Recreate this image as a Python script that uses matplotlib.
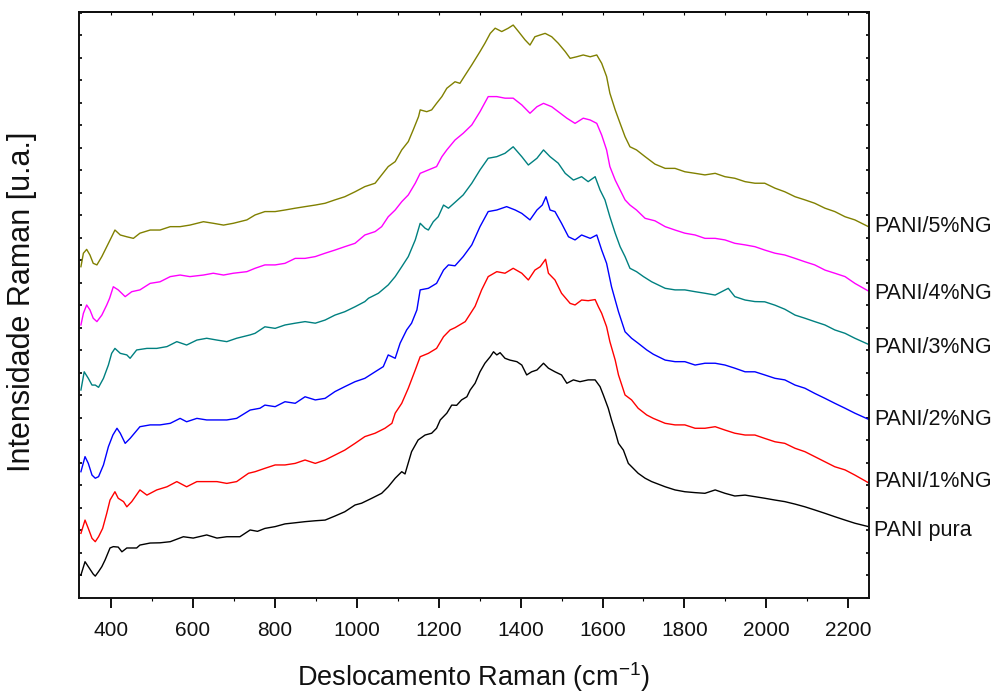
import matplotlib
matplotlib.use("Agg")
import matplotlib.pyplot as plt
from matplotlib.ticker import MultipleLocator, NullFormatter

plt.rcParams['font.family'] = ['Liberation Sans', 'DejaVu Sans']
plt.rcParams['mathtext.fontset'] = 'custom'
plt.rcParams['mathtext.rm'] = 'Liberation Sans'
plt.rcParams['mathtext.it'] = 'Liberation Sans'

# Raman spectra (stacked, arbitrary units)
x_pura = [327, 337, 345, 357, 362, 370, 378, 386, 398, 406, 418, 427, 439, 463, 471, 496, 520, 545, 577, 601,
          634, 659, 683, 715, 740, 758, 776, 801, 825, 850, 874, 899, 923, 947, 971, 996, 1012, 1037, 1061, 1077,
          1094, 1110, 1118, 1122, 1134, 1150, 1167, 1183, 1195, 1204, 1220, 1232, 1244, 1256, 1269, 1277, 1289, 1301, 1313, 1326,
          1334, 1342, 1350, 1362, 1374, 1391, 1403, 1415, 1427, 1440, 1456, 1468, 1484, 1500, 1513, 1529, 1545, 1565, 1582, 1594,
          1602, 1614, 1622, 1631, 1639, 1651, 1663, 1675, 1687, 1704, 1720, 1753, 1777, 1801, 1826, 1850, 1875, 1899, 1923, 1948,
          1972, 1996, 2021, 2045, 2070, 2094, 2118, 2143, 2167, 2192, 2216, 2249]
y_pura = [1.01, 1.60, 1.38, 1.05, 0.96, 1.16, 1.38, 1.68, 2.21, 2.27, 2.25, 2.04, 2.21, 2.21, 2.34, 2.43, 2.44, 2.49, 2.71, 2.65,
          2.79, 2.65, 2.71, 2.71, 3.01, 2.95, 3.08, 3.16, 3.28, 3.33, 3.38, 3.42, 3.45, 3.63, 3.82, 4.12, 4.20, 4.42, 4.64, 4.93,
          5.31, 5.60, 5.50, 5.75, 6.49, 7.01, 7.23, 7.31, 7.53, 7.90, 8.20, 8.56, 8.55, 8.79, 8.93, 9.23, 9.53, 10.04, 10.42, 10.71,
          10.93, 10.79, 10.89, 10.64, 10.56, 10.49, 10.34, 9.90, 10.04, 10.12, 10.42, 10.20, 10.04, 9.90, 9.53, 9.68, 9.60, 9.68, 9.68, 9.38,
          9.01, 8.42, 7.90, 7.38, 6.86, 6.56, 5.97, 5.75, 5.53, 5.31, 5.16, 4.93, 4.79, 4.71, 4.67, 4.64, 4.79, 4.64, 4.52, 4.56,
          4.49, 4.42, 4.34, 4.27, 4.16, 4.04, 3.90, 3.75, 3.60, 3.45, 3.31, 3.16]

x_1ng = [327, 337, 345, 354, 362, 370, 380, 390, 398, 410, 418, 431, 439, 451, 471, 488, 512, 537, 561, 585,
         610, 634, 659, 683, 707, 736, 752, 776, 801, 825, 850, 874, 899, 923, 947, 971, 996, 1020, 1045, 1069,
         1086, 1094, 1110, 1126, 1143, 1155, 1175, 1195, 1212, 1228, 1240, 1265, 1289, 1305, 1321, 1342, 1362, 1382, 1403, 1419,
         1435, 1448, 1461, 1468, 1484, 1500, 1521, 1533, 1549, 1565, 1582, 1590, 1598, 1610, 1618, 1631, 1639, 1655, 1671, 1687,
         1708, 1724, 1753, 1777, 1801, 1826, 1850, 1875, 1899, 1923, 1948, 1972, 1996, 2021, 2045, 2070, 2094, 2118, 2143, 2167,
         2192, 2216, 2249]
y_1ng = [2.86, 3.45, 3.08, 2.64, 2.49, 2.71, 3.08, 3.75, 4.34, 4.71, 4.42, 4.27, 4.04, 4.27, 4.79, 4.56, 4.79, 4.93, 5.16, 4.93,
         5.16, 5.16, 5.16, 5.08, 5.16, 5.53, 5.60, 5.75, 5.90, 5.90, 5.97, 6.12, 5.97, 6.12, 6.34, 6.56, 6.86, 7.16, 7.31, 7.53,
         7.75, 8.20, 8.64, 9.31, 10.12, 10.71, 10.86, 11.08, 11.60, 11.90, 12.00, 12.27, 12.95, 13.68, 14.27, 14.49, 14.42, 14.64, 14.42, 14.12,
         14.56, 14.71, 15.04, 14.42, 14.12, 13.53, 13.08, 13.01, 13.23, 13.20, 13.25, 12.93, 12.64, 12.04, 11.38, 10.56, 9.90, 9.01, 8.79, 8.42,
         8.12, 7.97, 7.75, 7.68, 7.68, 7.53, 7.53, 7.60, 7.45, 7.31, 7.23, 7.23, 7.08, 6.93, 6.86, 6.64, 6.49, 6.27, 6.04, 5.82,
         5.68, 5.45, 5.11]

x_2ng = [327, 337, 345, 354, 362, 370, 382, 394, 405, 415, 423, 435, 447, 471, 496, 520, 545, 569, 585, 610,
         634, 659, 683, 707, 740, 764, 776, 801, 825, 850, 874, 899, 923, 947, 971, 996, 1020, 1045, 1065, 1077,
         1094, 1106, 1122, 1134, 1147, 1155, 1175, 1195, 1212, 1224, 1240, 1260, 1281, 1301, 1321, 1342, 1366, 1387, 1403, 1423,
         1440, 1453, 1462, 1472, 1484, 1500, 1517, 1533, 1549, 1570, 1586, 1598, 1610, 1622, 1631, 1639, 1655, 1671, 1687, 1708,
         1724, 1753, 1777, 1801, 1826, 1850, 1875, 1899, 1923, 1948, 1972, 1996, 2021, 2045, 2070, 2094, 2118, 2143, 2167, 2192,
         2216, 2249]
y_2ng = [5.60, 6.27, 5.97, 5.45, 5.31, 5.38, 5.90, 6.71, 7.23, 7.53, 7.31, 6.86, 7.08, 7.60, 7.68, 7.68, 7.75, 7.97, 7.82, 7.97,
         7.90, 7.90, 7.90, 7.97, 8.34, 8.42, 8.56, 8.49, 8.71, 8.64, 8.93, 8.79, 8.86, 9.16, 9.38, 9.60, 9.75, 10.04, 10.27, 10.79,
         10.64, 11.31, 11.90, 12.20, 12.79, 13.68, 13.75, 13.97, 14.56, 14.79, 14.75, 15.16, 15.68, 16.49, 17.16, 17.23, 17.38, 17.23, 17.08, 16.79,
         17.23, 17.45, 17.82, 17.23, 17.16, 16.64, 16.04, 15.90, 16.12, 15.97, 16.12, 15.45, 14.86, 13.82, 13.23, 12.71, 11.82, 11.53, 11.31, 11.01,
         10.82, 10.56, 10.49, 10.49, 10.34, 10.42, 10.42, 10.34, 10.20, 10.04, 10.04, 9.90, 9.75, 9.68, 9.45, 9.31, 9.08, 8.86, 8.64, 8.42,
         8.20, 7.93]

x_3ng = [327, 335, 345, 354, 362, 370, 382, 394, 402, 410, 423, 439, 447, 463, 488, 512, 537, 561, 585, 610,
         634, 659, 683, 707, 740, 752, 776, 801, 825, 850, 874, 899, 923, 947, 971, 996, 1020, 1029, 1053, 1077,
         1094, 1110, 1126, 1143, 1155, 1167, 1175, 1187, 1199, 1212, 1224, 1240, 1260, 1281, 1301, 1321, 1342, 1362, 1382, 1403,
         1419, 1440, 1456, 1472, 1492, 1509, 1529, 1549, 1565, 1582, 1594, 1606, 1618, 1631, 1643, 1655, 1667, 1683, 1700, 1720,
         1728, 1753, 1777, 1801, 1826, 1850, 1875, 1907, 1923, 1948, 1972, 1996, 2021, 2045, 2070, 2094, 2118, 2143, 2167, 2192,
         2216, 2249]
y_3ng = [9.23, 10.04, 9.75, 9.45, 9.45, 9.35, 9.75, 10.34, 10.86, 11.08, 10.86, 10.79, 10.64, 11.01, 11.08, 11.08, 11.16, 11.38, 11.23, 11.45,
         11.53, 11.45, 11.38, 11.53, 11.68, 11.75, 12.04, 11.97, 12.12, 12.20, 12.27, 12.20, 12.34, 12.56, 12.71, 12.93, 13.16, 13.31, 13.53, 13.90,
         14.27, 14.71, 15.16, 15.90, 16.64, 16.42, 16.34, 16.71, 16.93, 17.45, 17.31, 17.57, 17.90, 18.42, 19.01, 19.53, 19.60, 19.75, 20.04, 19.60,
         19.23, 19.53, 19.90, 19.60, 19.31, 18.86, 18.56, 18.71, 18.49, 18.71, 18.12, 17.68, 16.93, 16.20, 15.60, 15.16, 14.64, 14.49, 14.27, 14.04,
         13.97, 13.75, 13.68, 13.68, 13.60, 13.53, 13.45, 13.75, 13.38, 13.23, 13.16, 13.15, 13.00, 12.82, 12.56, 12.42, 12.27, 12.12, 11.90, 11.75,
         11.53, 11.26]

x_4ng = [327, 333, 341, 349, 357, 366, 378, 390, 397, 406, 418, 435, 451, 471, 496, 520, 545, 569, 593, 626,
         650, 675, 699, 732, 752, 776, 801, 825, 850, 874, 899, 923, 947, 971, 996, 1020, 1045, 1061, 1077, 1094,
         1110, 1126, 1143, 1155, 1175, 1195, 1208, 1220, 1240, 1260, 1281, 1301, 1321, 1342, 1362, 1382, 1403, 1423, 1440, 1456,
         1476, 1492, 1513, 1533, 1553, 1570, 1586, 1598, 1610, 1618, 1631, 1643, 1655, 1667, 1683, 1704, 1728, 1753, 1777, 1801,
         1826, 1850, 1875, 1899, 1923, 1948, 1972, 1996, 2021, 2045, 2070, 2094, 2118, 2143, 2167, 2192, 2216, 2249]
y_4ng = [12.12, 12.64, 13.01, 12.79, 12.42, 12.27, 12.56, 13.01, 13.31, 13.82, 13.68, 13.38, 13.60, 13.68, 13.97, 14.04, 14.27, 14.34, 14.27, 14.34,
         14.42, 14.34, 14.42, 14.49, 14.64, 14.79, 14.79, 14.86, 15.08, 15.08, 15.16, 15.31, 15.45, 15.60, 15.75, 16.12, 16.27, 16.49, 16.93, 17.23,
         17.60, 17.90, 18.42, 18.86, 19.01, 19.16, 19.60, 19.90, 20.34, 20.64, 21.01, 21.60, 22.27, 22.27, 22.20, 22.20, 21.90, 21.53, 21.82, 21.97,
         21.82, 21.60, 21.31, 21.08, 21.31, 21.23, 21.08, 20.56, 19.90, 19.16, 18.56, 18.12, 17.68, 17.45, 17.23, 16.86, 16.75, 16.49, 16.34, 16.20,
         16.12, 15.97, 15.97, 15.90, 15.75, 15.68, 15.60, 15.45, 15.31, 15.23, 15.08, 14.93, 14.79, 14.56, 14.42, 14.27, 13.97, 13.63]

x_5ng = [327, 333, 341, 349, 357, 366, 378, 390, 402, 410, 423, 439, 455, 471, 496, 520, 545, 569, 593, 626,
         650, 675, 699, 732, 752, 776, 801, 825, 850, 874, 899, 923, 947, 971, 996, 1020, 1045, 1061, 1077, 1094,
         1110, 1126, 1138, 1151, 1155, 1171, 1183, 1195, 1208, 1220, 1240, 1252, 1265, 1281, 1301, 1313, 1326, 1338, 1354, 1370,
         1382, 1395, 1411, 1423, 1435, 1448, 1460, 1476, 1492, 1509, 1521, 1537, 1553, 1570, 1586, 1598, 1610, 1618, 1631, 1643,
         1655, 1667, 1683, 1704, 1720, 1728, 1753, 1777, 1801, 1826, 1850, 1875, 1899, 1923, 1948, 1972, 1996, 2021, 2045, 2070,
         2094, 2118, 2143, 2167, 2192, 2216, 2249]
y_5ng = [14.71, 15.31, 15.48, 15.23, 14.86, 14.79, 15.16, 15.60, 16.04, 16.34, 16.12, 16.04, 15.97, 16.20, 16.34, 16.34, 16.49, 16.49, 16.56, 16.71,
         16.64, 16.56, 16.64, 16.79, 17.01, 17.16, 17.16, 17.23, 17.31, 17.38, 17.45, 17.53, 17.68, 17.82, 18.04, 18.27, 18.42, 18.79, 19.16, 19.38,
         19.90, 20.27, 20.79, 21.38, 21.68, 21.60, 21.68, 21.97, 22.27, 22.64, 22.93, 22.86, 23.23, 23.68, 24.27, 24.64, 25.08, 25.31, 25.16, 25.31,
         25.45, 25.16, 24.79, 24.56, 24.93, 25.01, 25.08, 24.93, 24.64, 24.27, 23.97, 24.04, 24.12, 24.04, 24.12, 23.75, 23.16, 22.42, 21.68, 21.08,
         20.49, 20.04, 19.90, 19.60, 19.38, 19.27, 19.08, 19.08, 18.93, 18.86, 18.79, 18.86, 18.71, 18.64, 18.49, 18.42, 18.42, 18.20, 18.04, 17.82,
         17.68, 17.53, 17.31, 17.16, 16.93, 16.79, 16.49]

series = [
    (x_pura, y_pura, 'PANI pura', '#000000', -2.5),
    (x_1ng, y_1ng, 'PANI/1%NG', '#ff0000', 1),
    (x_2ng, y_2ng, 'PANI/2%NG', '#0000ff', 0),
    (x_3ng, y_3ng, 'PANI/3%NG', '#008080', -2.5),
    (x_4ng, y_4ng, 'PANI/4%NG', '#ff00ff', -1.5),
    (x_5ng, y_5ng, 'PANI/5%NG', '#808000', 0),
]

fig = plt.figure(figsize=(10.05, 6.93), dpi=100)
ax = fig.add_axes([0.0789, 0.1375, 0.7858, 0.8452])

for xs, ys, name, color, dy in series:
    ax.plot(xs, ys, color=color, lw=1.0)
    ax.annotate(name, xy=(xs[-1], ys[-1]), xytext=(4, dy), textcoords='offset points',
                ha='left', va='center', fontsize=15.5, color='#111111', annotation_clip=False)

ax.set_xlim(323, 2250.5)
ax.set_ylim(0, 26.03)

ax.xaxis.set_major_locator(MultipleLocator(200))
ax.xaxis.set_minor_locator(MultipleLocator(100))
ax.tick_params(axis='x', which='major', direction='out', length=7.5, width=1.4,
               labelsize=15, pad=9, colors='#111111')
ax.tick_params(axis='x', which='minor', direction='out', length=2, width=0.8)

ax.yaxis.set_major_locator(MultipleLocator(1))
ax.yaxis.set_major_formatter(NullFormatter())
ax.tick_params(axis='y', which='major', direction='in', length=2.5, width=1.2,
               left=True, right=True)

top = ax.secondary_xaxis('top')
top.xaxis.set_major_locator(MultipleLocator(100))
top.xaxis.set_major_formatter(NullFormatter())
top.tick_params(direction='in', length=2, width=0.8)
top.spines['top'].set_linewidth(1.4)

for sp in ax.spines.values():
    sp.set_linewidth(1.4)
    sp.set_color('#111111')

fig.text(474 / 1005, 1 - 677 / 693, r'Deslocamento Raman (cm$^{\mathregular{-1}}$)',
         ha='center', va='center', fontsize=19.5, color='#111111')
fig.text(22 / 1005, 1 - 302 / 693, 'Intensidade Raman [u.a.]', rotation=90,
         ha='center', va='center', fontsize=22, color='#111111')

fig.savefig('out.png', dpi=100)
